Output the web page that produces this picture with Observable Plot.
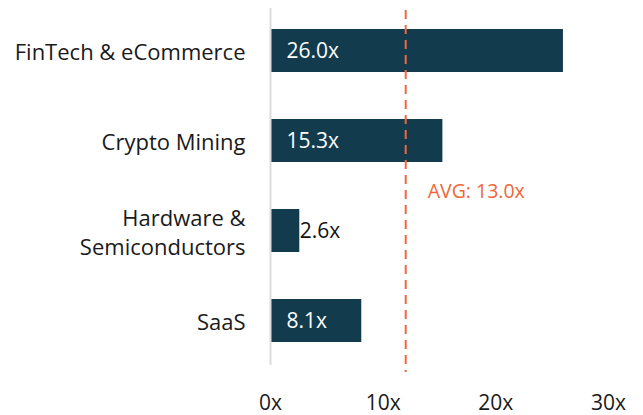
<!DOCTYPE html>
<html>
<head>
<meta charset="utf-8">
<script src="https://cdn.jsdelivr.net/npm/d3@7"></script>
<script src="https://cdn.jsdelivr.net/npm/@observablehq/plot@0.6"></script>
<style>
  html, body { margin: 0; padding: 0; background: #fff; }
  #chart svg { display: block; }
</style>
</head>
<body>
<div id="chart"></div>
<script>
const categories = ["FinTech & eCommerce", "Crypto Mining", "Hardware & Semiconductors", "SaaS"];
const categoryLabels = ["FinTech & eCommerce", "Crypto Mining", "Hardware &\nSemiconductors", "SaaS"];
const multiples = [26.0, 15.3, 2.6, 8.1];
const valueLabels = ["26.0x", "15.3x", "2.6x", "8.1x"];
const labelInside = [true, true, false, true];
const avgPosition = 12;
const avgLabel = "AVG: 13.0x";
const xTicks = [0, 10, 20, 30];
const xTickLabels = ["0x", "10x", "20x", "30x"];

const data = categories.map((c, i) => ({
  category: c, label: categoryLabels[i], value: multiples[i],
  valueLabel: valueLabels[i], inside: labelInside[i]
}));

const font = "'Open Sans', 'Noto Sans', sans-serif";
const barColor = "#123c4e";
const avgColor = "#f0673a";

const chart = Plot.plot({
  width: 643,
  height: 415,
  marginLeft: 270,
  marginRight: 35,
  marginTop: 6,
  marginBottom: 49,
  style: { fontFamily: font, fontSize: "20px", color: "#111" },
  x: { domain: [0, 30], axis: null },
  y: { domain: categories, paddingInner: 0.52, paddingOuter: 0.26, axis: null },
  marks: [
    Plot.barX(data, { x: "value", y: "category", fill: barColor }),
    Plot.ruleX([0], { stroke: "#d9dddd", strokeWidth: 2, insetTop: 2, insetBottom: 1 }),
    Plot.ruleX([avgPosition], { stroke: avgColor, strokeWidth: 2, strokeDasharray: "9,6", insetTop: 4, insetBottom: -6 }),
    Plot.text([avgLabel], { x: avgPosition, frameAnchor: "top", dy: 178, dx: 22, text: d => d, textAnchor: "start", fill: avgColor, fontSize: 19.5 }),
    Plot.text(data.filter(d => d.inside), { x: 0, y: "category", text: "valueLabel", dx: 16, textAnchor: "start", fill: "#fff", fontSize: 21 }),
    Plot.text(data.filter(d => !d.inside), { x: "value", y: "category", text: "valueLabel", dx: 0, textAnchor: "start", fill: "#111", fontSize: 21 }),
    Plot.text(data, { x: 0, y: "category", text: "label", dx: -25, textAnchor: "end", fill: "#1a1a1a", fontSize: 22, lineHeight: 1.32 }),
    Plot.text(xTicks, { x: d => d, frameAnchor: "bottom", dy: 43, text: (d, i) => xTickLabels[i], fill: "#1a1a1a", fontSize: 21 })
  ]
});
document.getElementById("chart").appendChild(chart);
</script>
</body>
</html>
